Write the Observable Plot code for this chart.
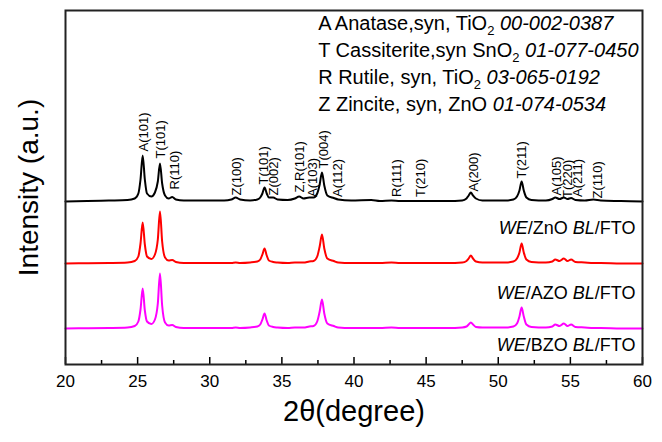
<!DOCTYPE html>
<html><head><meta charset="utf-8">
<script src="https://cdn.jsdelivr.net/npm/d3@7"></script>
<script src="https://cdn.jsdelivr.net/npm/@observablehq/plot@0.6"></script>
<style>
body{margin:0;background:#fff;}
#chart svg{font-family:"Liberation Sans",Arial,sans-serif;overflow:visible;}
</style>
</head><body><div id="chart"></div>
<script>
// 2θ sample points (degrees)
const twoTheta = [20.0,21.5,23.0,24.3,24.8,25.05,25.2,25.35,25.5,25.65,25.95,26.2,26.4,26.55,26.7,26.9,27.15,27.4,27.65,28.2,
  29.5,31.0,31.5,31.8,32.1,32.8,33.3,33.5,33.65,33.8,33.95,34.1,34.4,34.7,35.4,35.9,36.2,36.5,36.9,37.2,
  37.45,37.62,37.78,37.94,38.15,38.6,38.9,39.8,41.2,41.8,42.6,43.2,46.5,47.5,47.8,47.95,48.1,48.25,48.45,48.9,
  50.5,51.05,51.3,51.47,51.62,51.77,51.95,52.3,53.3,53.75,53.95,54.25,54.55,54.8,55.05,55.35,56.0,56.6,57.1,58.5,60.0];
// intensities above each pattern's own baseline (a.u.)
const intensityBlack = [0,0.5,1,1.5,3,8,22,46,22,8,5,9,20,38,18,6,3,4.5,2,1,
  1,1,2,4,2,1,2,4,8,14,8,4,4,2,1.5,3,5,3,4,4,
  8,17,29,16,6,3.5,2,1,1.5,0.5,1,0.5,0.5,1,3,6,9,6,3,1,
  1,2,5,11,20,11,4,1.5,1,2.5,4,2.5,4,2.5,3.5,1.5,1,2,1,0.5,0];
const intensityRed = [0,0.3,0.5,1,2.5,7,20,41,19,7,4.5,9,24,52,22,6,3,3.5,1.5,0.5,
  0.5,0.5,0.5,1,0.5,1,2,4,9,15,8,3,1.5,1,0.5,1,1,1,2,2.5,
  7,17,29,15,5,2.5,1,0.5,0.5,0.5,1,0.5,0.5,1,2.5,5,8,5,2,1,
  1,2,5,11,20,11,4,1.5,1,2,4,2.5,5,2.5,4,1.5,1,0.5,0.5,0,0];
const intensityMagenta = [0,0.3,0.5,1,2.5,7,19,40,18,7,4.5,9,25,55,23,6,3,3.5,1.5,0.5,
  0.5,0.5,0.5,1,0.5,1,2,4,9,15,8,3,1.5,1,0.5,1,1,1,2,2.5,
  7,17,29,15,5,2.5,1,0.5,0.5,0.5,1,0.5,0.5,1,2,4,6,4,1.5,1,
  1,2,5,12,21,12,4,1.5,1,2,4,2.5,5,2.5,4,1.5,1,0.5,0.5,0,0];
const seriesKeys = ["black","red","magenta"];
const seriesOffsets = [163,101,36];
const seriesColors = ["#000000","#ff0000","#ff00ff"];

// peak labels on the top pattern
const peakLabels = ["A(101)","T(101)","R(110)","Z(100)","T(101)","Z(002)","Z,R(101)","A(103)","T(004)","A(112)",
  "R(111)","T(210)","A(200)","T(211)","A(105)","T(220)","A(211)","Z(110)"];
const peakLabelX = [25.43,26.59,27.56,31.9,33.76,34.45,36.26,37.15,37.92,38.86,43.0,44.64,48.33,51.62,54.07,54.81,55.5,56.9];
const peakLabelLevel = [50,43,12,6,17,6,9,4.5,33,4.5,4.5,4.5,10,23,6,3.5,4.5,3];

// phase legend
const legendKeys = ["A","T","R","Z"];
const legendPhases = ["Anatase,syn, TiO","Cassiterite,syn SnO","Rutile, syn, TiO","Zincite, syn, ZnO"];
const legendSubs = ["2","2","2",""];
const legendPdf = ["00-002-0387","01-077-0450","03-065-0192","01-074-0534"];
const legendLevel = [341,314,287,260];

// sample labels
const sampleLabels = [["WE","/ZnO ","BL","/FTO"],["WE","/AZO ","BL","/FTO"],["WE","/BZO ","BL","/FTO"]];
const sampleLevel = [136,71,19];

const majorTicks = [20,25,30,35,40,45,50,55,60];
const minorTicks = [22.5,27.5,32.5,37.5,42.5,47.5,52.5,57.5];

const data = seriesKeys.flatMap((s, k) => twoTheta.map((x, i) => ({
  series: s, x, y: seriesOffsets[k] + [intensityBlack, intensityRed, intensityMagenta][k][i]
})));
const peaks = peakLabels.map((t, i) => ({t, x: peakLabelX[i], y: seriesOffsets[0] + peakLabelLevel[i]}));

const chart = Plot.plot({
  width: 662, height: 442,
  marginLeft: 65, marginRight: 20, marginTop: 10, marginBottom: 78,
  x: {domain: [20, 60]},
  y: {domain: [0, 354], axis: null},
  color: {domain: seriesKeys, range: seriesColors},
  style: {fontFamily: "'Liberation Sans', Arial, sans-serif", color: "#000"},
  marks: [
    Plot.line(data, {x: "x", y: "y", z: "series", stroke: "series", strokeWidth: 2, curve: "monotone-x"}),
    Plot.text(peaks, {x: "x", y: "y", text: "t", rotate: -90, textAnchor: "start", fontSize: 13, fill: "#000"}),
    Plot.axisX({ticks: majorTicks, tickSize: 0, tickPadding: 10, fontSize: 17, label: null, tickFormat: d => String(d)}),
    Plot.axisX({ticks: majorTicks, tickSize: -7, tickFormat: () => "", label: null, strokeWidth: 1.5}),
    Plot.axisX({ticks: minorTicks, tickSize: -4, tickFormat: () => "", label: null, strokeWidth: 1.5}),
    Plot.frame({stroke: "#222", strokeWidth: 2}),
    Plot.text(["2θ(degree)"], {frameAnchor: "bottom", textAnchor: "middle", dy: 56, fontSize: 29, fill: "#000"}),
    Plot.text(["Intensity (a.u.)"], {frameAnchor: "left", textAnchor: "middle", rotate: -90, dx: -36, fontSize: 28, fill: "#000"})
  ]
});
document.getElementById("chart").appendChild(chart);

const sx = chart.scale("x"), sy = chart.scale("y");
const svg = d3.select(chart);
const g = svg.append("g").attr("fill", "#000");
// legend
legendKeys.forEach((k, i) => {
  const t = g.append("text").attr("x", sx.apply(37.55)).attr("y", sy.apply(legendLevel[i]))
    .attr("dy", "0.35em").attr("text-anchor", "start").attr("font-size", 20);
  t.append("tspan").text(k + " " + legendPhases[i]);
  if (legendSubs[i]) t.append("tspan").attr("font-size", 13).attr("dy", "0.35em").text(legendSubs[i]);
  const p = t.append("tspan").attr("font-style", "italic").text(" " + legendPdf[i]);
  if (legendSubs[i]) p.attr("dy", "-0.23em");
});
// sample labels
sampleLabels.forEach((parts, i) => {
  const t = g.append("text").attr("x", sx.apply(59.55)).attr("y", sy.apply(sampleLevel[i]))
    .attr("dy", "0.35em").attr("text-anchor", "end").attr("font-size", 18);
  parts.forEach((p, j) => t.append("tspan").attr("font-style", j % 2 === 0 ? "italic" : "normal").text(p));
});
</script></body></html>
